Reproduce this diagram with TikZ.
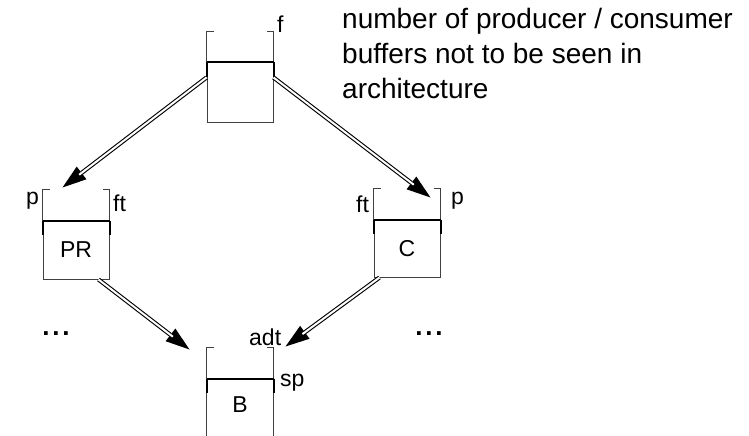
\documentclass[tikz,border=0pt]{standalone}
\usepackage{fontspec}
\setmainfont{Liberation Sans}
\usetikzlibrary{arrows.meta}

\tikzset{
  thinline/.style={draw=black!75, line width=1pt},
  heavy/.style={draw=black, line width=2pt},
  lower/.style={thinline, minimum width=66pt, inner sep=0pt,
                font=\fontsize{23}{27}\selectfont},
  lbl/.style={anchor=base west, inner sep=0pt, font=\fontsize{23}{27}\selectfont},
  dots/.style={inner sep=0pt, font=\fontsize{26}{30}\selectfont\bfseries},
  dblarrow/.style={line width=4.2pt, black,
    -{Triangle[length=24pt,width=16pt,line width=0pt]},
    postaction={draw=white, line width=2pt, -, shorten >=21pt}},
}

% bracket above a buffer body: open top with short ticks, heavy divider
\newcommand\bufbracket[1]{%
  \draw[thinline] (#1.north west) -- ++(0,-31) -- ++(7,0);
  \draw[thinline] (#1.north east) -- ++(0,-31) -- ++(-7,0);
  \draw[heavy] (#1.north west) -- (#1.north east);
  \draw[heavy] (#1.north west) -- ++(0,14);
  \draw[heavy] (#1.north east) -- ++(0,14);
}

\begin{document}
\begin{tikzpicture}[x=1pt, y=-1pt]
  \useasboundingbox (0,0) rectangle (749,436);

  % buffer bodies
  \node[lower, minimum height=59pt] (top) at (240,92.5) {};
  \node[lower, minimum height=58pt] (PR) at (76,250) {PR};
  \node[lower, minimum height=57pt] (C) at (407,248.5) {C};
  \node[lower, draw=none, minimum height=52pt] (B) at (240,405) {B};
  \draw[thinline] (B.north west) -- ++(0,57);
  \draw[thinline] (B.north east) -- ++(0,57);

  \bufbracket{top}
  \bufbracket{PR}
  \bufbracket{C}
  \bufbracket{B}

  % labels
  \node[lbl] (lf) at (277,33) {f};
  \node[lbl] (lp1) at (26,204) {p};
  \node[lbl] (lft1) at (113,211) {ft};
  \node[lbl] (lft2) at (356,212) {ft};
  \node[lbl] (lp2) at (451,204) {p};
  \node[lbl] (ladt) at (249,345) {adt};
  \node[lbl] (lsp) at (280,386) {sp};

  \node[dots] (d1) at (56,334) {.\hspace{2.8pt}.\hspace{2.8pt}.};
  \node[dots] (d2) at (429,334) {.\hspace{2.8pt}.\hspace{2.8pt}.};

  \node[anchor=north west, inner sep=0pt, align=left,
        font=\fontsize{28}{35}\selectfont] (note) at (342,8)
    {number of producer / consumer\\buffers not to be seen in\\architecture};

  % connectors
  \coordinate (t1) at ([xshift=20pt,yshift=33pt]PR.north west);
  \coordinate (t2) at ([xshift=-10pt,yshift=22pt]C.north east);
  \coordinate (t3) at ([xshift=-17pt,yshift=29pt]B.north west);
  \coordinate (t4) at ([xshift=12pt,yshift=32pt]B.north east);
  \draw[dblarrow] ([yshift=-15pt]top.north west) -- (t1);
  \draw[dblarrow] ([yshift=-15pt]top.north east) -- (t2);
  \draw[dblarrow] ([xshift=-11pt]PR.south east) -- (t3);
  \draw[dblarrow] ([xshift=6pt]C.south west) -- (t4);
\end{tikzpicture}
\end{document}
